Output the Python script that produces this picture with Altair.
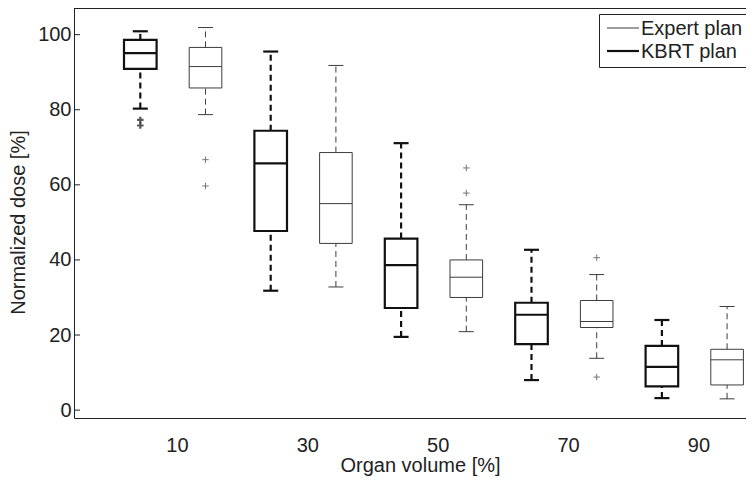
import altair as alt
import pandas as pd

# ---- data ----
volumes = [10, 30, 50, 70, 90]
plans = ["Expert plan", "KBRT plan"]

kbrt_hi = [100.9, 95.5, 71.1, 42.7, 24.0]
kbrt_q3 = [98.6, 74.4, 45.7, 28.6, 17.1]
kbrt_med = [95.1, 65.7, 38.6, 25.4, 11.5]
kbrt_q1 = [90.9, 47.7, 27.2, 17.6, 6.3]
kbrt_lo = [80.3, 31.8, 19.5, 8.0, 3.2]

expert_hi = [101.9, 91.8, 54.7, 36.1, 27.6]
expert_q3 = [96.6, 68.6, 40.0, 29.2, 16.2]
expert_med = [91.5, 55.0, 35.4, 23.6, 13.4]
expert_q1 = [85.8, 44.4, 30.0, 22.0, 6.7]
expert_lo = [78.7, 32.8, 20.9, 13.8, 3.0]

kbrt_out_vol = [10, 10]
kbrt_out_val = [77.3, 75.8]
expert_out_vol = [10, 10, 50, 50, 70, 70]
expert_out_val = [66.7, 59.7, 64.5, 57.8, 40.6, 8.8]

y_ticks = [0, 20, 40, 60, 80, 100]

# ---- tables ----
rows = []
for i, v in enumerate(volumes):
    rows.append(dict(plan="KBRT plan", volume=v, lo=kbrt_lo[i], q1=kbrt_q1[i],
                     med=kbrt_med[i], q3=kbrt_q3[i], hi=kbrt_hi[i]))
    rows.append(dict(plan="Expert plan", volume=v, lo=expert_lo[i], q1=expert_q1[i],
                     med=expert_med[i], q3=expert_q3[i], hi=expert_hi[i]))
df = pd.DataFrame(rows)

out = pd.DataFrame(
    [dict(plan="KBRT plan", volume=v, val=y) for v, y in zip(kbrt_out_vol, kbrt_out_val)]
    + [dict(plan="Expert plan", volume=v, val=y) for v, y in zip(expert_out_vol, expert_out_val)]
)

FONT = "Liberation Sans"
TXT = "#222222"
W, H = 672, 410

xscale = alt.Scale(domain=[-5.169, 97.9], nice=False, zero=False)
yscale = alt.Scale(domain=[-2.1, 107.1], nice=False, zero=False)

x_axis = alt.Axis(values=volumes, ticks=False, grid=False, labelPadding=17,
                  labelFontSize=20, labelFont=FONT, labelColor=TXT, labelOffset=4,
                  title="Organ volume [%]", titleFont=FONT, titleFontSize=20,
                  titleFontWeight="normal", titleColor=TXT, titlePadding=0,
                  titleX=346, domainColor=TXT, labelAngle=0)
y_axis = alt.Axis(values=y_ticks, ticks=False, grid=False, labelPadding=3,
                  labelFontSize=20, labelFont=FONT, labelColor=TXT,
                  title="Normalized dose [%]", titleFont=FONT, titleFontSize=20,
                  titleFontWeight="normal", titleColor=TXT, titlePadding=9,
                  titleY=214, domainColor=TXT)

stroke = alt.Stroke("plan:N", scale=alt.Scale(domain=plans, range=["#3c3c3c", "#111111"]), legend=None)
swidth = alt.StrokeWidth("plan:N", scale=alt.Scale(domain=plans, range=[1, 2.2]), legend=None)

base = alt.Chart(df).transform_calculate(
    xc="datum.volume + (datum.plan == 'KBRT plan' ? -5 : 5)"
).transform_calculate(
    xl="datum.xc - 2.5", xr="datum.xc + 2.5",
    cl="datum.xc - 1.15", cr="datum.xc + 1.15",
)

medians = base.mark_rule().encode(
    x=alt.X("xl:Q", scale=xscale, axis=x_axis), x2="xr:Q",
    y=alt.Y("med:Q", scale=yscale, axis=y_axis),
    stroke=stroke, strokeWidth=swidth,
)
boxes = base.mark_rect(fill="transparent").encode(
    x=alt.X("xl:Q", scale=xscale, axis=x_axis), x2="xr:Q",
    y=alt.Y("q1:Q", scale=yscale, axis=y_axis), y2="q3:Q",
    stroke=stroke, strokeWidth=swidth,
)
cap_hi = base.mark_rule().encode(
    x=alt.X("cl:Q", scale=xscale, axis=x_axis), x2="cr:Q",
    y=alt.Y("hi:Q", scale=yscale, axis=y_axis),
    stroke=stroke, strokeWidth=swidth,
)
cap_lo = base.mark_rule().encode(
    x=alt.X("cl:Q", scale=xscale, axis=x_axis), x2="cr:Q",
    y=alt.Y("lo:Q", scale=yscale, axis=y_axis),
    stroke=stroke, strokeWidth=swidth,
)
wh_hi = base.mark_rule(strokeDash=[6, 4]).encode(
    x=alt.X("xc:Q", scale=xscale, axis=x_axis),
    y=alt.Y("q3:Q", scale=yscale, axis=y_axis), y2="hi:Q",
    stroke=stroke, strokeWidth=swidth,
)
wh_lo = base.mark_rule(strokeDash=[6, 4]).encode(
    x=alt.X("xc:Q", scale=xscale, axis=x_axis),
    y=alt.Y("lo:Q", scale=yscale, axis=y_axis), y2="q1:Q",
    stroke=stroke, strokeWidth=swidth,
)
outliers = alt.Chart(out).transform_calculate(
    xc="datum.volume + (datum.plan == 'KBRT plan' ? -5 : 5)"
).mark_point(shape="M-1,0H1M0,-1V1", filled=False, size=42).encode(
    x=alt.X("xc:Q", scale=xscale, axis=x_axis),
    y=alt.Y("val:Q", scale=yscale, axis=y_axis),
    stroke=stroke, strokeWidth=swidth,
)

yticks = alt.Chart(pd.DataFrame({"t": y_ticks})).mark_rule(color=TXT, strokeWidth=1).encode(
    y=alt.Y("t:Q", scale=yscale, axis=y_axis), x=alt.value(0), x2=alt.value(6)
)
top_line = alt.Chart(pd.DataFrame({"t": [0]})).mark_rule(color=TXT, strokeWidth=1).encode(
    x=alt.value(0), x2=alt.value(W), y=alt.value(0.5)
)

# ---- legend box (upper right, cut by the figure edge like the reference) ----
leg_df = pd.DataFrame({"plan": plans, "row": [0, 1]})
leg_box = alt.Chart(pd.DataFrame({"t": [0]})).mark_rect(
    fill="white", stroke=TXT, strokeWidth=1
).encode(x=alt.value(525.5), x2=alt.value(W + 20), y=alt.value(6.5), y2=alt.value(59.5))
leg_lines = alt.Chart(leg_df).transform_calculate(
    ly="20 + datum.row * 23"
).mark_rule().encode(
    x=alt.value(533), x2=alt.value(565),
    y=alt.Y("ly:Q", scale=None),
    stroke=stroke, strokeWidth=swidth,
)
leg_text = alt.Chart(leg_df).transform_calculate(
    ly="20 + datum.row * 23"
).mark_text(align="left", baseline="middle", font=FONT, fontSize=20, color=TXT, dy=1).encode(
    x=alt.value(567), y=alt.Y("ly:Q", scale=None), text="plan:N",
)

chart = alt.layer(
    medians, boxes, cap_hi, cap_lo, wh_hi, wh_lo, outliers, yticks, top_line,
    leg_box, leg_lines, leg_text
).properties(
    width=W, height=H,
    autosize=alt.AutoSizeParams(type="none"),
    padding={"left": 66, "top": 0, "right": 0, "bottom": 62},
).configure_view(stroke=None).configure(background="white")

chart.save("out.html", embed_options={"renderer": "svg", "actions": False})
